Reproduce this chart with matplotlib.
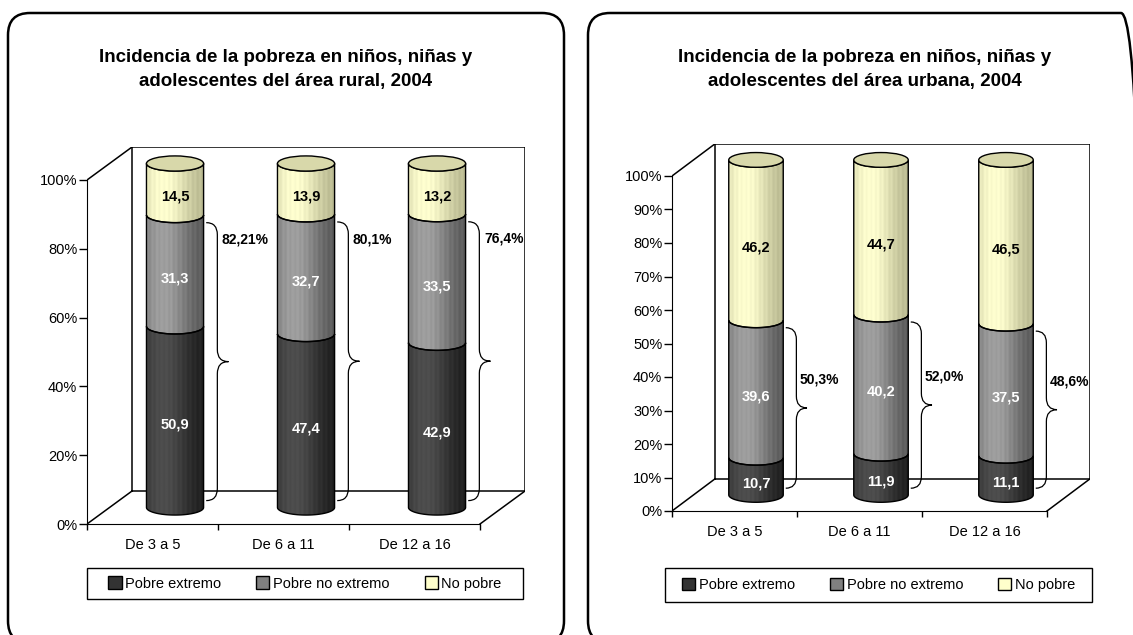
import numpy as np
import matplotlib.pyplot as plt
import matplotlib.colors as mcolors
from matplotlib.patches import Polygon, Ellipse, Patch, Rectangle, FancyBboxPatch, PathPatch
from matplotlib.path import Path

plt.rcParams['font.family'] = ['Liberation Sans', 'DejaVu Sans']

# ---- datos ----
categorias = ['De 3 a 5', 'De 6 a 11', 'De 12 a 16']
series = ['Pobre extremo', 'Pobre no extremo', 'No pobre']

rural_extremo = [50.9, 47.4, 42.9]
rural_no_extremo = [31.3, 32.7, 33.5]
rural_no_pobre = [14.5, 13.9, 13.2]
rural_llaves = ['82,21%', '80,1%', '76,4%']

urbana_extremo = [10.7, 11.9, 11.1]
urbana_no_extremo = [39.6, 40.2, 37.5]
urbana_no_pobre = [46.2, 44.7, 46.5]
urbana_llaves = ['50,3%', '52,0%', '48,6%']

# ---- estilo ----
W, H = 1133, 635
DX, DY = 0.344, 9.6      # profundidad 3D (categorias, %)
A, B = 0.218, 2.2        # semiejes del cilindro
COLORES = ['#333333', '#808080', '#ffffcc']
TONOS = [('#1c1c1c', '#4e4e4e'), ('#555555', '#a0a0a0'), ('#b4b48c', '#ffffd0')]
TAPA = '#d8d8aa'
TXT = ['white', 'white', 'black']


def perfil(n=90):
    t = np.linspace(0, 1, n)
    p = np.exp(-((t - 0.3) / 0.45) ** 2)
    p = p + 0.08 * np.sin(2 * np.pi * t * 12)
    return np.clip(p, 0, 1)


def segmento(ax, cx, y0, y1, tono):
    t = np.linspace(np.pi, 2 * np.pi, 50)
    xb, yb = cx + A * np.cos(t), y0 + B * np.sin(t)
    xt, yt = (cx + A * np.cos(t))[::-1], (y1 + B * np.sin(t))[::-1]
    verts = np.column_stack([np.r_[xb, xt], np.r_[yb, yt]])
    poly = Polygon(verts, closed=True, fc='none', ec='black', lw=1, zorder=4)
    ax.add_patch(poly)
    c0, c1 = np.array(mcolors.to_rgb(tono[0])), np.array(mcolors.to_rgb(tono[1]))
    img = c0 + perfil()[:, None] * (c1 - c0)
    im = ax.imshow(img[None, :, :], extent=(cx - A, cx + A, y0 - B, y1 + B),
                   aspect='auto', interpolation='bilinear', zorder=3)
    im.set_clip_path(poly)


def llave(ax, x0, y0, y1, w, q=3.5):
    xm, ym = x0 + w / 2, (y0 + y1) / 2
    verts = [(x0, y0), (xm, y0), (xm, y0 + q), (xm, ym - q), (xm, ym), (x0 + w, ym),
             (xm, ym), (xm, ym + q), (xm, y1 - q), (xm, y1), (x0, y1)]
    codes = [Path.MOVETO, Path.CURVE3, Path.CURVE3, Path.LINETO, Path.CURVE3, Path.CURVE3,
             Path.CURVE3, Path.CURVE3, Path.LINETO, Path.CURVE3, Path.CURVE3]
    ax.add_patch(PathPatch(Path(verts, codes), fc='none', ec='black', lw=0.9, zorder=6))


def grafico(ax, extremo, no_extremo, no_pobre, llaves, paso, lbl_dx, lbl_modo):
    vals = np.array([extremo, no_extremo, no_pobre], dtype=float)
    pct = vals / vals.sum(axis=0) * 100
    cum = np.cumsum(pct, axis=0)
    base = np.vstack([np.zeros(3), cum[:-1]])

    ax.set_xlim(0, 3 + DX)
    ax.set_ylim(0, 100 + DY)
    ax.patch.set_visible(False)
    for s in ['top', 'right']:
        ax.spines[s].set_visible(False)
    ax.spines['left'].set_bounds(0, 100)
    ax.spines['bottom'].set_bounds(0, 3)
    yt = np.arange(0, 101, paso)
    ax.set_yticks(yt)
    ax.set_yticklabels([f'{v}%' for v in yt])
    ax.tick_params(axis='y', direction='out', length=6, width=1, labelsize=10.5, pad=1)
    ax.set_xticks([0, 1, 2, 3])
    ax.set_xticklabels([])
    ax.tick_params(axis='x', which='major', direction='out', length=4.5, width=1)
    ax.set_xticks([0.5, 1.5, 2.5], minor=True)
    ax.set_xticklabels(categorias, minor=True)
    ax.tick_params(axis='x', which='minor', length=0, pad=10, labelsize=10.5)

    # marco 3D
    k = dict(color='black', lw=1.1, zorder=1)
    ax.plot([DX, DX, 3 + DX, 3 + DX, DX], [DY, 100 + DY, 100 + DY, DY, DY], **k)
    ax.plot([0, DX], [100, 100 + DY], **k)
    ax.plot([0, DX], [0, DY], **k)
    ax.plot([3, 3 + DX], [0, DY], **k)

    for i in range(3):
        cx = i + 0.5 + DX / 2
        for j in range(3):
            y0, y1 = base[j, i] + DY / 2, cum[j, i] + DY / 2
            segmento(ax, cx, y0, y1, TONOS[j])
            ax.text(cx, (y0 + y1) / 2 - B, f'{vals[j, i]:.1f}'.replace('.', ','),
                    ha='center', va='center', fontsize=10.5, fontweight='bold',
                    color=TXT[j], zorder=7)
        ax.add_patch(Ellipse((cx, cum[2, i] + DY / 2), 2 * A, 2 * B, fc=TAPA,
                             ec='black', lw=1, zorder=5))
        # llave
        x0 = cx + A + 0.02
        yb, yt_ = DY / 2 + 2, cum[1, i] + DY / 2 - B
        llave(ax, x0, yb, yt_, 0.17)
        if lbl_modo == 'arriba':
            ly = yt_ - 5
        else:
            ly = (yb + yt_) / 2 + 8.5
        ax.text(x0 + lbl_dx, ly, llaves[i], ha='left', va='center', fontsize=10,
                fontweight='bold', zorder=7)


fig = plt.figure(figsize=(W / 100, H / 100), dpi=100)

# paneles redondeados
for x, w in [(0.08, 5.56), (5.88, 5.55)]:
    p = FancyBboxPatch((x, -0.08), w, 6.30, boxstyle='round,pad=0,rounding_size=0.22',
                       fc='none', ec='black', lw=1.8, transform=fig.dpi_scale_trans)
    fig.patches.append(p)

ax1 = fig.add_axes([87 / W, (H - 524) / H, (3 + DX) * 131 / W, (100 + DY) * 3.44 / H])
grafico(ax1, rural_extremo, rural_no_extremo, rural_no_pobre, rural_llaves, 20, 0.12, 'arriba')

ax2 = fig.add_axes([672 / W, (H - 511) / H, (3 + DX) * 125 / W, (100 + DY) * 3.35 / H])
grafico(ax2, urbana_extremo, urbana_no_extremo, urbana_no_pobre, urbana_llaves, 10, 0.11, 'medio')

fig.text(286 / W, 1 - 69.5 / H,
         'Incidencia de la pobreza en niños, niñas y\nadolescentes del área rural, 2004',
         ha='center', va='center', fontsize=13.5, fontweight='bold', linespacing=1.55)
fig.text(865 / W, 1 - 69.5 / H,
         'Incidencia de la pobreza en niños, niñas y\nadolescentes del área urbana, 2004',
         ha='center', va='center', fontsize=13.5, fontweight='bold', linespacing=1.55)

# leyendas
handles = [Patch(facecolor=c, edgecolor='black', lw=1) for c in COLORES]
for cx, cy, (x0, y0, x1, y1) in [(305, 583.5, (87, 568, 523, 599)),
                                  (878.5, 585, (665, 568, 1092, 602))]:
    fig.legend(handles, series, ncol=3, loc='center', bbox_to_anchor=(cx / W, 1 - cy / H),
               frameon=False, fontsize=10.5, handlelength=0.9, handleheight=0.9,
               handletextpad=0.25, columnspacing=2.4)
    fig.patches.append(Rectangle((x0 / W, 1 - y1 / H), (x1 - x0) / W, (y1 - y0) / H,
                                 transform=fig.transFigure, fill=False, ec='black', lw=1))

plt.savefig('out.png', dpi=100)
